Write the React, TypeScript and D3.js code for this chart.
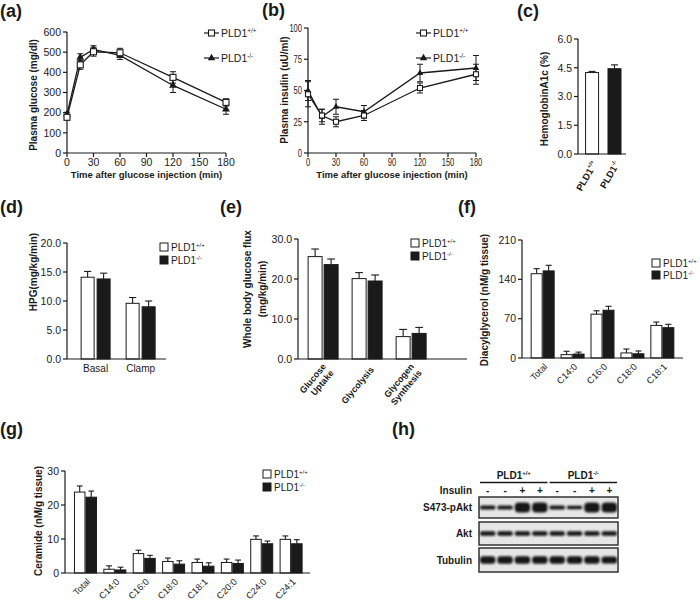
import React from "react";
import * as d3 from "d3";

const FONT = "'Liberation Sans', Arial, Helvetica, sans-serif";
const INK = "#1a1a1a";

// ---------- (a) & (b) time course ----------
const timePoints = [0, 15, 30, 60, 120, 180];
const timeTicks = [0, 30, 60, 90, 120, 150, 180];
const glucoseTicks = [0, 100, 200, 300, 400, 500, 600];
const glucoseWT = [177, 437, 502, 497, 375, 251];
const glucoseWTErr = [12, 22, 22, 22, 28, 18];
const glucoseKO = [192, 474, 514, 484, 335, 217];
const glucoseKOErr = [10, 18, 18, 20, 35, 25];
const insulinTicks = [0, 25, 50, 75, 100];
const insulinWT = [47, 30, 25, 30, 52, 63];
const insulinWTErr = [10, 5, 4, 4, 4, 8];
const insulinKO = [50, 29, 37, 33, 64, 68];
const insulinKOErr = [8, 6, 6, 5, 7, 10];

// ---------- (c) HbA1c ----------
const hbCats = ["PLD1+/+", "PLD1-/-"];
const hbValues = [4.25, 4.45];
const hbErr = [0.06, 0.2];
const hbTicks = [0, 1.5, 3, 4.5, 6];

// ---------- (d) HPG ----------
const hpgCats = ["Basal", "Clamp"];
const hpgWT = [14.1, 9.6];
const hpgWTErr = [1.0, 1.0];
const hpgKO = [13.8, 9.0];
const hpgKOErr = [1.0, 1.0];
const hpgTicks = [0, 5, 10, 15, 20];

// ---------- (e) glucose flux ----------
const fluxCats = ["Glucose Uptake", "Glycolysis", "Glycogen Synthesis"];
const fluxWT = [25.6, 20.1, 5.6];
const fluxWTErr = [1.9, 1.5, 1.8];
const fluxKO = [23.6, 19.5, 6.4];
const fluxKOErr = [1.4, 1.5, 1.5];
const fluxTicks = [0, 10, 20, 30];

// ---------- (f) DAG ----------
const dagCats = ["Total", "C14:0", "C16:0", "C18:0", "C18:1"];
const dagWT = [150, 6, 78, 9, 58];
const dagWTErr = [9, 6, 6, 7, 6];
const dagKO = [155, 7, 85, 7.5, 54];
const dagKOErr = [10, 3.5, 7, 5, 6];
const dagTicks = [0, 70, 140, 210];

// ---------- (g) Ceramide ----------
const cerCats = ["Total", "C14:0", "C16:0", "C18:0", "C18:1", "C20:0", "C24:0", "C24:1"];
const cerWT = [23.8, 1.1, 5.7, 3.4, 3.1, 3.1, 9.9, 9.9];
const cerWTErr = [1.8, 1.0, 1.0, 1.0, 1.0, 1.0, 1.0, 1.0];
const cerKO = [22.3, 0.9, 4.3, 2.6, 2.0, 2.8, 8.6, 8.6];
const cerKOErr = [1.8, 0.8, 0.9, 1.0, 1.0, 1.0, 0.8, 1.2];
const cerTicks = [0, 10, 20, 30];

// ---------- (h) Western blot ----------
const blotGroups = ["PLD1+/+", "PLD1-/-"];
const insulinLanes = ["-", "-", "+", "+", "-", "-", "+", "+"];
const blotRows = ["S473-pAkt", "Akt", "Tubulin"];
const pAktBands = [0.42, 0.4, 1, 1, 0.38, 0.36, 1, 1];
const aktBands = [1, 1, 1, 1, 1, 1, 1, 1];
const tubulinBands = [1, 1, 1, 1, 1, 1, 1, 0.95];

function Geno({ x, y, text, size = 10, weight = "normal", anchor = "start" }: any) {
  const base = text.slice(0, 4);
  const sup = text.slice(4);
  return (
    <text x={x} y={y} fontSize={size} fontWeight={weight} textAnchor={anchor} fill={INK}>
      {base}
      <tspan dy={-size * 0.42} fontSize={size * 0.6}>{sup}</tspan>
    </text>
  );
}

function PanelLabel({ x, y, t }: any) {
  return (
    <text x={x} y={y} fontSize={18} fontWeight="bold" fill={INK}>{t}</text>
  );
}

function LinePanel(p: any) {
  const { left, right, top, bottom } = p;
  const x = d3.scaleLinear().domain([0, 180]).range([left, right]);
  const y = d3.scaleLinear().domain([0, p.yMax]).range([bottom, top]);
  const line = d3.line<number>().x((_, i) => x(timePoints[i])).y((d) => y(d));
  const tri = d3.symbol().type(d3.symbolTriangle).size(p.mk * p.mk * 0.75)() as string;
  const cap = 3;
  const errs = (vals: number[], e: number[], key: string) =>
    vals.map((v, i) => {
      const cx = x(timePoints[i]);
      return (
        <g key={key + i} stroke={INK} strokeWidth={1}>
          <line x1={cx} x2={cx} y1={y(v - e[i])} y2={y(v + e[i])} />
          <line x1={cx - cap} x2={cx + cap} y1={y(v - e[i])} y2={y(v - e[i])} />
          <line x1={cx - cap} x2={cx + cap} y1={y(v + e[i])} y2={y(v + e[i])} />
        </g>
      );
    });
  const h = p.mk / 2;
  return (
    <g>
      <line x1={left} x2={left} y1={top} y2={bottom} stroke={INK} strokeWidth={1.2} />
      <line x1={left} x2={right} y1={bottom} y2={bottom} stroke={INK} strokeWidth={1.2} />
      {p.yTicks.map((t: number) => (
        <g key={"y" + t}>
          <line x1={left - 4} x2={left} y1={y(t)} y2={y(t)} stroke={INK} strokeWidth={1.2} />
          <text transform={`translate(${left - 6},${y(t)}) scale(${p.sx},1)`} textAnchor="end" dy="0.36em" fontSize={10.5} fill={INK}>{t}</text>
        </g>
      ))}
      {timeTicks.map((t) => (
        <g key={"x" + t}>
          <line x1={x(t)} x2={x(t)} y1={bottom} y2={bottom + 4} stroke={INK} strokeWidth={1.2} />
          <text transform={`translate(${x(t)},${bottom + 13}) scale(${p.sx},1)`} textAnchor="middle" fontSize={10.5} fill={INK}>{t}</text>
        </g>
      ))}
      <text x={(left + right) / 2 + p.xtDx} y={178} textAnchor="middle" fontSize={9.5} fontWeight="bold" fill={INK}>Time after glucose injection (min)</text>
      <text transform={`translate(${p.ytX},${p.ytY}) rotate(-90)`} textAnchor="middle" fontSize={10} fontWeight="bold" fill={INK}>{p.yTitle}</text>
      <path d={line(p.ko) as string} fill="none" stroke={INK} strokeWidth={1.3} />
      <path d={line(p.wt) as string} fill="none" stroke={INK} strokeWidth={1.3} />
      {errs(p.ko, p.koErr, "ke")}
      {errs(p.wt, p.wtErr, "we")}
      {p.ko.map((v: number, i: number) => (
        <path key={"kt" + i} d={tri} transform={`translate(${x(timePoints[i])},${y(v)})`} fill={INK} />
      ))}
      {p.wt.map((v: number, i: number) => (
        <rect key={"ws" + i} x={x(timePoints[i]) - h} y={y(v) - h} width={p.mk} height={p.mk} fill="#fff" stroke={INK} strokeWidth={1.1} />
      ))}
      <g>
        <line x1={p.legX} x2={p.legX + 15} y1={33} y2={33} stroke={INK} strokeWidth={1.2} />
        <rect x={p.legX + 7.5 - 3} y={30} width={6} height={6} fill="#fff" stroke={INK} strokeWidth={1.1} />
        <Geno x={p.legX + 17} y={37} text="PLD1+/+" size={10.5} />
        <line x1={p.legX} x2={p.legX + 15} y1={58} y2={58} stroke={INK} strokeWidth={1.2} />
        <path d={d3.symbol().type(d3.symbolTriangle).size(24)() as string} transform={`translate(${p.legX + 7.5},${58})`} fill={INK} />
        <Geno x={p.legX + 17} y={62} text="PLD1-/-" size={10.5} />
      </g>
    </g>
  );
}

function BarPanel(p: any) {
  const { left, right, top, bottom } = p;
  const y = d3.scaleLinear().domain([0, p.yMax]).range([bottom, top]);
  const x = d3.scalePoint<string>().domain(p.cats).range([left, right]).padding(p.padding).align(p.align);
  const bw = p.bw;
  const gap = p.gap;
  const capW = bw * 0.55;
  const series = [
    { vals: p.wt, errs: p.wtErr, fill: "#fff", off: -gap / 2 - bw / 2 },
    { vals: p.ko, errs: p.koErr, fill: INK, off: gap / 2 + bw / 2 },
  ];
  return (
    <g>
      {series.map((s, si) =>
        p.cats.map((c: string, i: number) => {
          const cx = (x(c) as number) + s.off;
          const v = s.vals[i];
          const e = s.errs[i];
          return (
            <g key={si + "-" + i}>
              <line x1={cx} x2={cx} y1={y(v)} y2={y(v + e)} stroke={INK} strokeWidth={1.1} />
              <line x1={cx - capW / 2} x2={cx + capW / 2} y1={y(v + e)} y2={y(v + e)} stroke={INK} strokeWidth={1.1} />
              <rect x={cx - bw / 2} y={y(v)} width={bw} height={bottom - y(v)} fill={s.fill} stroke={INK} strokeWidth={1} />
            </g>
          );
        })
      )}
      <line x1={left} x2={left} y1={top} y2={bottom} stroke={INK} strokeWidth={1.2} />
      <line x1={left} x2={right} y1={bottom} y2={bottom} stroke={INK} strokeWidth={1.2} />
      {p.ticks.map((t: number) => (
        <g key={"t" + t}>
          <line x1={left - 4} x2={left} y1={y(t)} y2={y(t)} stroke={INK} strokeWidth={1.2} />
          <text x={left - 6} y={y(t)} dy="0.36em" textAnchor="end" fontSize={10.5} fill={INK}>{t.toFixed(p.digits)}</text>
        </g>
      ))}
      {p.cats.map((c: string) => {
        const cx = x(c) as number;
        if (p.labelMode === "flat") {
          return (
            <text key={"l" + c} x={cx} y={bottom + 13} textAnchor="middle" fontSize={10} fill={INK}>{c}</text>
          );
        }
        if (p.labelMode === "rot45") {
          return (
            <text key={"l" + c} transform={`translate(${cx + 3},${bottom + 7}) rotate(-45)`} textAnchor="end" dy="0.35em" fontSize={9.2} fill={INK}>{c}</text>
          );
        }
        const parts = c.split(" ");
        return (
          <text key={"l" + c} transform={`translate(${cx + 5},${bottom + 9}) rotate(-50)`} textAnchor="end" fontSize={9} fontWeight="bold" fill={INK}>
            {parts.map((pt, k) => (
              <tspan key={k} x={0} y={parts.length === 1 ? 3 : k === 0 ? -2 : 8}>{pt}</tspan>
            ))}
          </text>
        );
      })}
      <rect x={p.legX} y={p.legY - 8} width={8} height={8} fill="#fff" stroke={INK} strokeWidth={1} />
      <Geno x={p.legX + 11} y={p.legY} text="PLD1+/+" size={10} />
      <rect x={p.legX} y={p.legY + p.legDy - 8} width={8} height={8} fill={INK} stroke={INK} strokeWidth={1} />
      <Geno x={p.legX + 11} y={p.legY + p.legDy} text="PLD1-/-" size={10} />
    </g>
  );
}

function HbPanel() {
  const left = 578, right = 626, top = 39, bottom = 154;
  const y = d3.scaleLinear().domain([0, 6]).range([bottom, top]);
  const x = d3.scalePoint<string>().domain(hbCats).range([left, right]).padding(0.57).align(0.55);
  const bw = 13;
  return (
    <g>
      {hbCats.map((c, i) => {
        const cx = x(c) as number;
        const v = hbValues[i];
        const e = hbErr[i];
        return (
          <g key={c}>
            <line x1={cx} x2={cx} y1={y(v)} y2={y(v + e)} stroke={INK} strokeWidth={1.1} />
            <line x1={cx - 3.5} x2={cx + 3.5} y1={y(v + e)} y2={y(v + e)} stroke={INK} strokeWidth={1.1} />
            <rect x={cx - bw / 2} y={y(v)} width={bw} height={bottom - y(v)} fill={i === 0 ? "#fff" : INK} stroke={INK} strokeWidth={1} />
            <g transform={`translate(${cx + 3},${bottom + 8}) rotate(-60)`}>
              <Geno x={0} y={3} text={c} size={9.5} weight="bold" anchor="end" />
            </g>
          </g>
        );
      })}
      <line x1={left} x2={left} y1={top} y2={bottom} stroke={INK} strokeWidth={1.2} />
      <line x1={left} x2={right} y1={bottom} y2={bottom} stroke={INK} strokeWidth={1.2} />
      {hbTicks.map((t) => (
        <g key={t}>
          <line x1={left - 4} x2={left} y1={y(t)} y2={y(t)} stroke={INK} strokeWidth={1.2} />
          <text x={left - 6} y={y(t)} dy="0.36em" textAnchor="end" fontSize={10.5} fill={INK}>{t.toFixed(1)}</text>
        </g>
      ))}
      <text transform="translate(548,99) rotate(-90)" textAnchor="middle" fontSize={10} fontWeight="bold" fill={INK}>HemoglobinA1c (%)</text>
    </g>
  );
}

function Blot() {
  const left = 479, right = 618;
  const lanes = d3.scaleBand<number>().domain(d3.range(insulinLanes.length)).range([left, right]);
  const boxes = [
    { name: blotRows[0], top: 497, bottom: 518, bands: pAktBands, hMax: 10 },
    { name: blotRows[1], top: 522, bottom: 545, bands: aktBands, hMax: 4.5 },
    { name: blotRows[2], top: 548, bottom: 572, bands: tubulinBands, hMax: 7.5 },
  ];
  const groupX = d3.scaleBand<string>().domain(blotGroups).range([left, right]);
  return (
    <g>
      <defs>
        <filter id="bandblur" x="-20%" y="-50%" width="140%" height="200%">
          <feGaussianBlur stdDeviation="0.9" />
        </filter>
      </defs>
      {blotGroups.map((g) => {
        const gx = groupX(g) as number;
        const bw = groupX.bandwidth();
        return (
          <g key={g}>
            <Geno x={gx + bw / 2} y={479} text={g} size={10} weight="bold" anchor="middle" />
            <line x1={gx + 1} x2={gx + bw - 1} y1={482.5} y2={482.5} stroke={INK} strokeWidth={1.3} />
          </g>
        );
      })}
      <text x={472} y={494} textAnchor="end" fontSize={10} fontWeight="bold" fill={INK}>Insulin</text>
      {insulinLanes.map((s, i) => (
        <text key={"ins" + i} x={(lanes(i) as number) + lanes.bandwidth() / 2} y={494} textAnchor="middle" fontSize={10} fontWeight="bold" fill={INK}>{s}</text>
      ))}
      {boxes.map((b) => {
        const cy = (b.top + b.bottom) / 2;
        return (
          <g key={b.name}>
            <rect x={left} y={b.top} width={right - left} height={b.bottom - b.top} fill="#e6e6e6" stroke="#333" strokeWidth={1.5} />
            <g filter="url(#bandblur)">
              {b.bands.map((v, i) => {
                const h = b.hMax * v;
                const lx = lanes(i) as number;
                return (
                  <rect key={i} x={lx + 1} y={cy - h / 2} width={lanes.bandwidth() - 2} height={h} rx={h / 2.5} fill="#151515" />
                );
              })}
            </g>
            <text x={472} y={cy} dy="0.36em" textAnchor="end" fontSize={10} fontWeight="bold" fill={INK}>{b.name}</text>
          </g>
        );
      })}
    </g>
  );
}

export default function App() {
  return (
    <svg
      width={700}
      height={601}
      viewBox="0 0 700 601"
      style={{ position: "absolute", left: 0, top: 0, background: "#fff" }}
      fontFamily={FONT}
    >
      <rect width={700} height={601} fill="#fff" />
      <PanelLabel x={0} y={17} t="(a)" />
      <PanelLabel x={262} y={16} t="(b)" />
      <PanelLabel x={517} y={17} t="(c)" />
      <PanelLabel x={0} y={213} t="(d)" />
      <PanelLabel x={220} y={213} t="(e)" />
      <PanelLabel x={458} y={213} t="(f)" />
      <PanelLabel x={0} y={435} t="(g)" />
      <PanelLabel x={392} y={435} t="(h)" />

      <LinePanel
        left={67} right={226} top={32} bottom={153} yMax={600} yTicks={glucoseTicks}
        wt={glucoseWT} wtErr={glucoseWTErr} ko={glucoseKO} koErr={glucoseKOErr}
        yTitle="Plasma glucose (mg/dl)" ytX={37} ytY={95} legX={204} sx={1} mk={6} xtDx={0}
      />
      <LinePanel
        left={308} right={476} top={28} bottom={153} yMax={100} yTicks={insulinTicks}
        wt={insulinWT} wtErr={insulinWTErr} ko={insulinKO} koErr={insulinKOErr}
        yTitle="Plasma insulin (uU/ml)" ytX={288} ytY={90} legX={416} sx={0.72} mk={5} xtDx={0}
      />
      <HbPanel />

      <BarPanel
        cats={hpgCats} wt={hpgWT} wtErr={hpgWTErr} ko={hpgKO} koErr={hpgKOErr}
        left={67} right={166} top={243} bottom={359} yMax={20} ticks={hpgTicks} digits={1}
        bw={13} gap={3} padding={0.6} align={0.53} labelMode="flat"
        legX={160} legY={251} legDy={13}
      />
      <text transform="translate(37,272) rotate(-90)" textAnchor="middle" fontSize={10} fontWeight="bold" fill={INK}>HPG(mg/kg/min)</text>

      <BarPanel
        cats={fluxCats} wt={fluxWT} wtErr={fluxWTErr} ko={fluxKO} koErr={fluxKOErr}
        left={298} right={467} top={239} bottom={359} yMax={30} ticks={fluxTicks} digits={1}
        bw={14} gap={2} padding={0.92} align={0.31} labelMode="rot50bold"
        legX={411} legY={247} legDy={13}
      />
      <text transform="translate(251,289) rotate(-90)" textAnchor="middle" fontSize={10} fontWeight="bold" fill={INK}>Whole body glucose flux</text>
      <text transform="translate(266,289) rotate(-90)" textAnchor="middle" fontSize={10} fontWeight="bold" fill={INK}>(mg/kg/min)</text>

      <BarPanel
        cats={dagCats} wt={dagWT} wtErr={dagWTErr} ko={dagKO} koErr={dagKOErr}
        left={522} right={683} top={240} bottom={358} yMax={210} ticks={dagTicks} digits={0}
        bw={11} gap={1} padding={0.69} align={0.5} labelMode="rot45"
        legX={652} legY={267} legDy={12}
      />
      <text transform="translate(488,300) rotate(-90)" textAnchor="middle" fontSize={10} fontWeight="bold" fill={INK}>Diacylglycerol (nM/g tissue)</text>

      <BarPanel
        cats={cerCats} wt={cerWT} wtErr={cerWTErr} ko={cerKO} koErr={cerKOErr}
        left={65} right={310} top={471} bottom={573} yMax={30} ticks={cerTicks} digits={0}
        bw={10.5} gap={1} padding={0.67} align={0.52} labelMode="rot45"
        legX={263} legY={478} legDy={13}
      />
      <text transform="translate(42,521) rotate(-90)" textAnchor="middle" fontSize={10} fontWeight="bold" fill={INK}>Ceramide (nM/g tissue)</text>

      <Blot />
    </svg>
  );
}
